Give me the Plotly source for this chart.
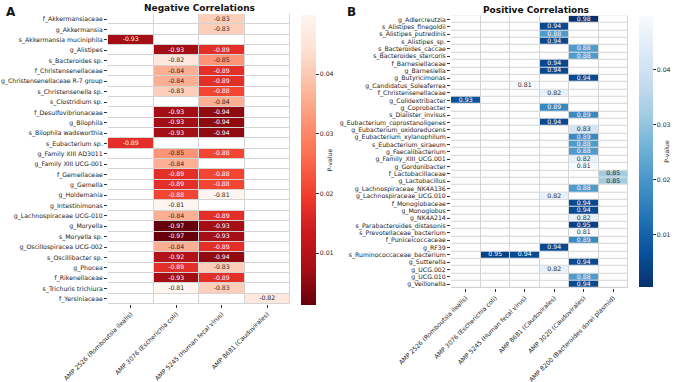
import plotly.graph_objects as go

W, H = 677, 382

# ---------------- Panel A data ----------------
A_cols = ["AMP 2526 (Romboutsia ilealis)", "AMP 3076 (Escherichia coli)",
          "AMP 5245 (Human fecal virus)", "AMP 8681 (Caudovirales)"]
A_taxa = ["f_Akkermansiaceae", "g_Akkermansia", "s_Akkermansia muciniphila", "g_Alistipes",
          "s_Bacteroides sp.", "f_Christensenellaceae", "g_Christensenellaceae R-7 group",
          "s_Christensenella sp.", "s_Clostridium sp.", "f_Desulfovibrionaceae", "g_Bilophila",
          "s_Bilophila wadsworthia", "s_Eubacterium sp.", "g_Family XIII AD3011",
          "g_Family XIII UCG-001", "f_Gemellaceae", "g_Gemella", "g_Holdemania",
          "g_Intestinimonas", "g_Lachnospiraceae UCG-010", "g_Moryella", "s_Moryella sp.",
          "g_Oscillospiracea UCG-002", "s_Oscillibacter sp.", "g_Phocea", "f_Rikenellaceae",
          "s_Trichuris trichiura", "f_Yersiniaceae"]
N = None
A_r = [
    [N, N, -0.83, N], [N, N, -0.83, N], [-0.93, N, N, N], [N, -0.93, -0.89, N],
    [N, -0.82, -0.85, N], [N, -0.84, -0.89, N], [N, -0.84, -0.89, N], [N, -0.83, -0.88, N],
    [N, N, -0.84, N], [N, -0.93, -0.94, N], [N, -0.93, -0.94, N], [N, -0.93, -0.94, N],
    [-0.89, N, N, N], [N, -0.85, -0.88, N], [N, -0.84, N, N], [N, -0.89, -0.88, N],
    [N, -0.89, -0.88, N], [N, -0.88, -0.81, N], [N, -0.81, N, N], [N, -0.84, -0.89, N],
    [N, -0.97, -0.93, N], [N, -0.97, -0.93, N], [N, -0.84, -0.89, N], [N, -0.92, -0.94, N],
    [N, -0.89, -0.83, N], [N, -0.93, -0.89, N], [N, -0.81, -0.83, N], [N, N, N, -0.82],
]
A_p = [
    [N, N, 0.041, N], [N, N, 0.041, N], [0.0072, N, N, N], [N, 0.0072, 0.0175, N],
    [N, 0.046, 0.032, N], [N, 0.036, 0.0175, N], [N, 0.036, 0.0175, N], [N, 0.041, 0.021, N],
    [N, N, 0.036, N], [N, 0.0072, 0.0053, N], [N, 0.0072, 0.0053, N], [N, 0.0072, 0.0053, N],
    [0.0175, N, N, N], [N, 0.032, 0.021, N], [N, 0.036, N, N], [N, 0.0175, 0.021, N],
    [N, 0.0175, 0.021, N], [N, 0.021, 0.0499, N], [N, 0.0499, N, N], [N, 0.036, 0.0175, N],
    [N, 0.0013, 0.0072, N], [N, 0.0013, 0.0072, N], [N, 0.036, 0.0175, N], [N, 0.0094, 0.0053, N],
    [N, 0.0175, 0.041, N], [N, 0.0072, 0.0175, N], [N, 0.0499, 0.041, N], [N, N, N, 0.046],
]

# ---------------- Panel B data ----------------
B_cols = ["AMP 2526 (Romboutsia ilealis)", "AMP 3076 (Escherichia coli)",
          "AMP 5245 (Human fecal virus)", "AMP 8681 (Caudovirales)",
          "AMP 3020 (Caudovirales)", "AMP 8200 (Bacteroides dorei plasmid)"]
B_taxa = ["g_Adlercreutzia", "s_Alistipes_finegoldii", "s_Alistipes_putredinis", "s_Alistipes_sp.",
          "s_Bacteroides_caccae", "s_Bacteroides_stercoris", "f_Barnesiellaceae", "g_Barnesiella",
          "g_Butyricimonas", "g_Candidatus_Soleaferrea", "f_Christensenellaceae",
          "g_Colidextribacter", "g_Coprobacter", "s_Dialister_invisus",
          "g_Eubacterium_coprostanoligenes", "g_Eubacterium_oxidoreducens",
          "g_Eubacterium_xylanophilum", "s_Eubacterium_siraeum", "g_Faecalibacterium",
          "g_Family_XIII_UCG.001", "g_Gordonibacter", "f_Lactobacillaceae", "g_Lactobacillus",
          "g_Lachnospiraceae_NK4A136", "g_Lachnospiraceae_UCG.010", "f_Monoglobaceae",
          "g_Monoglobus", "g_NK4A214", "s_Parabacteroides_distasonis",
          "s_Prevotellaceae_bacterium", "f_Puniceicoccaceae", "g_RF39",
          "s_Ruminococcaceae_bacterium", "g_Sutterella", "g_UCG.002", "g_UCG.010", "g_Veillonella"]
# (column index, r, p) entries per row
B_entries = [
    [(4, 0.98, 0.0006)], [(3, 0.94, 0.0053)], [(3, 0.88, 0.021)], [(3, 0.94, 0.0053)],
    [(4, 0.88, 0.021)], [(4, 0.88, 0.021)], [(3, 0.94, 0.0053)], [(3, 0.94, 0.0053)],
    [(4, 0.94, 0.0053)], [(2, 0.81, 0.0498)], [(3, 0.82, 0.046)], [(0, 0.93, 0.0072)],
    [(3, 0.89, 0.0175)], [(4, 0.89, 0.0175)], [(3, 0.94, 0.0053)], [(4, 0.83, 0.041)],
    [(4, 0.89, 0.0175)], [(4, 0.88, 0.021)], [(4, 0.88, 0.021)], [(4, 0.82, 0.046)],
    [(4, 0.81, 0.0498)], [(5, 0.85, 0.032)], [(5, 0.85, 0.032)], [(4, 0.88, 0.021)],
    [(3, 0.82, 0.046)], [(4, 0.94, 0.0053)], [(4, 0.94, 0.0053)], [(4, 0.82, 0.046)],
    [(4, 0.95, 0.0037)], [(4, 0.81, 0.0498)], [(4, 0.89, 0.0175)], [(3, 0.94, 0.0053)],
    [(1, 0.95, 0.0037), (2, 0.94, 0.0053)], [(4, 0.94, 0.0053)], [(3, 0.82, 0.046)],
    [(4, 0.88, 0.021)], [(4, 0.94, 0.0053)],
]
B_r = [[None] * len(B_cols) for _ in B_taxa]
B_p = [[None] * len(B_cols) for _ in B_taxa]
for i, ents in enumerate(B_entries):
    for c, r, p in ents:
        B_r[i][c] = r
        B_p[i][c] = p

REDS = ["#fff5f0", "#fee0d2", "#fcbba1", "#fc9272", "#fb6a4a", "#ef3b2c", "#cb181d", "#a50f15", "#67000d"]
BLUES = ["#f7fbff", "#deebf7", "#c6dbef", "#9ecae1", "#6baed6", "#4292c6", "#2171b5", "#08519c", "#08306b"]


def rev_scale(cols):
    cols = cols[::-1]
    n = len(cols) - 1
    return [[i / n, c] for i, c in enumerate(cols)]


FONT = "DejaVu Sans"
FS = 6.2
fig = go.Figure()


def add_panel(cols, taxa, rr, pp, xa, ya, scale, zmin, zmax, cbx, cby, cblen, cbthick, fmt):
    fig.add_trace(go.Heatmap(z=[[0] * len(cols) for _ in taxa], x=cols, y=taxa,
                             colorscale=[[0, "white"], [1, "white"]], showscale=False,
                             xgap=1, ygap=1, hoverinfo="skip", xaxis=xa, yaxis=ya))
    fig.add_trace(go.Heatmap(z=pp, x=cols, y=taxa, colorscale=rev_scale(scale),
                             zmin=zmin, zmax=zmax, xgap=1, ygap=1, xaxis=xa, yaxis=ya,
                             colorbar=dict(x=cbx, xanchor="left", y=cby, yanchor="middle",
                                           xpad=0, ypad=0,
                                           len=cblen, lenmode="pixels", thickness=cbthick,
                                           outlinewidth=0, ticks="outside", ticklen=3,
                                           tickcolor="#333", tickvals=[0.01, 0.02, 0.03, 0.04],
                                           tickfont=dict(size=FS, family=FONT, color="#222"),
                                           title=dict(text="P-value", side="right",
                                                      font=dict(size=FS, family=FONT, color="#222")))))
    xs, ys, ts, cs = [], [], [], []
    for i, t in enumerate(taxa):
        for j, c in enumerate(cols):
            if rr[i][j] is not None:
                xs.append(c)
                ys.append(t)
                ts.append(fmt.format(rr[i][j]))
                cs.append("#262626" if pp[i][j] > 0.027 else "white")
    fig.add_trace(go.Scatter(x=xs, y=ys, text=ts, mode="text", xaxis=xa, yaxis=ya,
                             textfont=dict(size=FS, family=FONT, color=cs),
                             hoverinfo="skip", showlegend=False))


add_panel(A_cols, A_taxa, A_r, A_p, "x", "y", REDS, 0.0013, 0.0499,
          301 / W, 1 - 160 / H, 290, 15, "{:.2f}")
add_panel(B_cols, B_taxa, B_r, B_p, "x2", "y2", BLUES, 0.0005, 0.0498,
          639 / W, 1 - 151.5 / H, 271, 14, "{:.2f}")

axcommon = dict(showgrid=False, zeroline=False, ticks="outside", ticklen=3, tickwidth=0.8,
                tickcolor="#333", tickfont=dict(size=FS, family=FONT, color="#222"), showline=False,
                tickmode="linear", tick0=0, dtick=1, automargin=False)

fig.update_layout(
    width=W, height=H, margin=dict(l=0, r=0, t=0, b=0),
    paper_bgcolor="white", plot_bgcolor="#d4d4d4",
    font=dict(family=FONT, size=FS, color="#222"),
    showlegend=False,
    xaxis=dict(domain=[108 / W, 290 / W], anchor="y", tickangle=-45, type="category",
               categoryorder="array", categoryarray=A_cols,
               range=[-0.5, len(A_cols) - 0.5], **axcommon),
    yaxis=dict(domain=[1 - 304 / H, 1 - 14 / H], anchor="x", type="category",
               categoryorder="array", categoryarray=A_taxa,
               range=[len(A_taxa) - 0.5, -0.5], **axcommon),
    xaxis2=dict(domain=[451 / W, 628 / W], anchor="y2", tickangle=-45, type="category",
                categoryorder="array", categoryarray=B_cols,
                range=[-0.5, len(B_cols) - 0.5], **axcommon),
    yaxis2=dict(domain=[1 - 288 / H, 1 - 15.7 / H], anchor="x2", type="category",
                categoryorder="array", categoryarray=B_taxa,
                range=[len(B_taxa) - 0.5, -0.5], **axcommon),
    annotations=[
        dict(text="<b>Negative Correlations</b>", x=199 / W, y=1 - 8.5 / H, xref="paper", yref="paper",
             showarrow=False, font=dict(size=9, family=FONT, color="#111"), xanchor="center", yanchor="middle"),
        dict(text="<b>Positive Correlations</b>", x=536 / W, y=1 - 9.5 / H, xref="paper", yref="paper",
             showarrow=False, font=dict(size=9, family=FONT, color="#111"), xanchor="center", yanchor="middle"),
        dict(text="<b>A</b>", x=4 / W, y=1 - 12 / H, xref="paper", yref="paper", showarrow=False,
             font=dict(size=12, family=FONT, color="#111"), xanchor="left", yanchor="middle"),
        dict(text="<b>B</b>", x=345 / W, y=1 - 12.5 / H, xref="paper", yref="paper", showarrow=False,
             font=dict(size=12, family=FONT, color="#111"), xanchor="left", yanchor="middle"),
    ],
)

fig.write_html("out.html")
